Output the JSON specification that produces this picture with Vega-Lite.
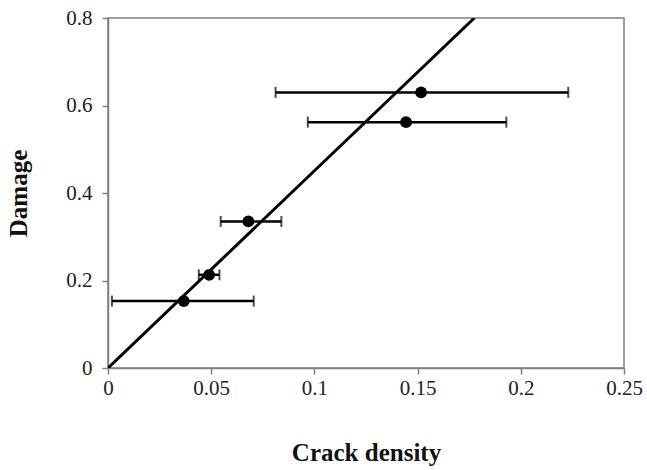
{
  "$schema": "https://vega.github.io/schema/vega-lite/v6.json",
  "autosize": {"type": "none"},
  "width": 516,
  "height": 350,
  "padding": {"left": 108, "top": 18, "right": 23, "bottom": 102},
  "background": "white",
  "config": {
    "view": {"stroke": "#7f7f7f", "strokeWidth": 1.5},
    "font": "Liberation Serif",
    "axis": {
      "grid": false,
      "domainColor": "#7f7f7f",
      "domainWidth": 1.5,
      "tickColor": "#7f7f7f",
      "tickWidth": 1.5,
      "tickSize": 6,
      "labelFont": "Liberation Serif",
      "labelFontSize": 21,
      "labelColor": "#222",
      "labelExpr": "datum.value + ''",
      "titleFont": "Liberation Serif",
      "titleFontSize": 25,
      "titleFontWeight": "bold",
      "titleColor": "#111"
    }
  },
  "datasets": {
    "pts": [
      {"crack": 0.0367, "damage": 0.153, "lo": 0.0019, "hi": 0.0706},
      {"crack": 0.049, "damage": 0.213, "lo": 0.044, "hi": 0.054},
      {"crack": 0.068, "damage": 0.335, "lo": 0.0546, "hi": 0.084},
      {"crack": 0.1444, "damage": 0.562, "lo": 0.0968, "hi": 0.193},
      {"crack": 0.1517, "damage": 0.63, "lo": 0.0812, "hi": 0.223}
    ],
    "fit": [
      {"crack": 0, "damage": 0},
      {"crack": 0.1775, "damage": 0.8}
    ]
  },
  "layer": [
    {
      "data": {"name": "fit"},
      "mark": {"type": "line", "color": "black", "strokeWidth": 3, "clip": true},
      "encoding": {
        "x": {"field": "crack", "type": "quantitative", "scale": {"domain": [0, 0.25], "nice": false},
          "axis": {"title": "Crack density", "values": [0, 0.05, 0.1, 0.15, 0.2, 0.25], "labelPadding": 3, "titlePadding": 42, "labelFlush": false}},
        "y": {"field": "damage", "type": "quantitative", "scale": {"domain": [0, 0.8], "nice": false},
          "axis": {"title": "Damage", "values": [0, 0.2, 0.4, 0.6, 0.8], "labelPadding": 10, "titlePadding": 34, "labelFlush": false}}
      }
    },
    {
      "data": {"name": "pts"},
      "mark": {"type": "rule", "color": "black", "strokeWidth": 2.5},
      "encoding": {
        "x": {"field": "lo", "type": "quantitative"},
        "x2": {"field": "hi"},
        "y": {"field": "damage", "type": "quantitative"}
      }
    },
    {
      "data": {"name": "pts"},
      "mark": {"type": "tick", "color": "black", "size": 11, "thickness": 2, "orient": "vertical"},
      "encoding": {
        "x": {"field": "lo", "type": "quantitative"},
        "y": {"field": "damage", "type": "quantitative"}
      }
    },
    {
      "data": {"name": "pts"},
      "mark": {"type": "tick", "color": "black", "size": 11, "thickness": 2, "orient": "vertical"},
      "encoding": {
        "x": {"field": "hi", "type": "quantitative"},
        "y": {"field": "damage", "type": "quantitative"}
      }
    },
    {
      "data": {"name": "pts"},
      "mark": {"type": "point", "filled": true, "color": "black", "size": 140, "opacity": 1},
      "encoding": {
        "x": {"field": "crack", "type": "quantitative"},
        "y": {"field": "damage", "type": "quantitative"}
      }
    }
  ]
}
